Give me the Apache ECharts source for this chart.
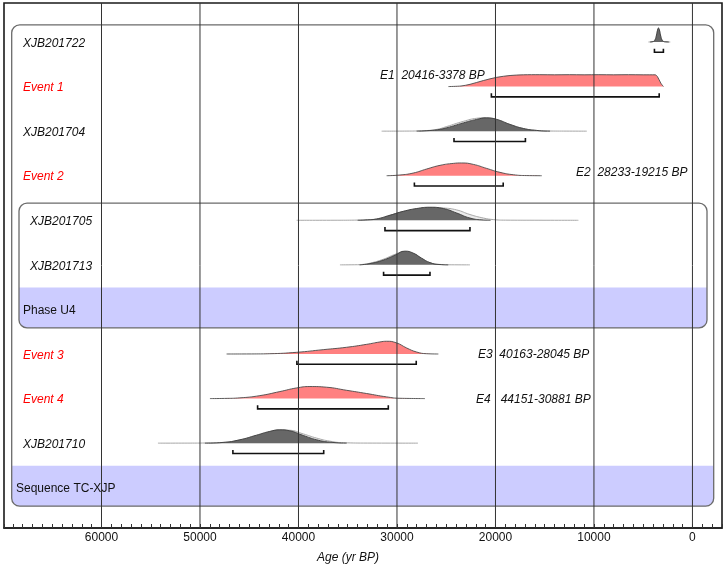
<!DOCTYPE html>
<html><head><meta charset="utf-8">
<script src="https://cdn.jsdelivr.net/npm/echarts@6/dist/echarts.min.js"></script>
<style>html,body{margin:0;padding:0;background:#fff}#chart{width:726px;height:569px}</style>
</head><body><div id="chart"></div>
<script>
// ---------------- DATA ----------------
const rowLabels = ['XJB201722','Event 1','XJB201704','Event 2','XJB201705','XJB201713','Phase U4','Event 3','Event 4','XJB201710','Sequence TC-XJP'];
const rowKinds  = ['sample','event','sample','event','sample','sample','phase','event','event','sample','sequence'];
const rowDepth  = [1,1,1,1,2,2,1,1,1,1,0];
const groupNames = ['Sequence TC-XJP','Phase U4'];
const groupFirstRow = [0,4];
const groupLastRow  = [10,6];

// 95.4% ranges (yr BP)
const rangeFrom = [3860,20416,24210,28233,31220,31360,null,40163,44151,46660,null];
const rangeTo   = [2950, 3378,16960,19215,22590,26650,null,28045,30881,37440,null];

const annotationTexts = ['E1  20416-3378 BP','E2  28233-19215 BP','E3  40163-28045 BP','E4   44151-30881 BP'];
const annotationRows  = [1,3,7,8];

const ageTicks = [60000,50000,40000,30000,20000,10000,0];

// distributions: [age BP, relative density 0..100]
const xjb201722Prior = [[4470,0],[4000,3],[3800,15],[3650,48],[3520,90],[3450,98],[3370,90],[3250,52],[3100,17],[2950,5],[2700,1],[2250,0]];
const xjb201722Post  = [[4300,0],[4000,3],[3800,15],[3650,50],[3520,92],[3450,100],[3370,90],[3250,50],[3100,15],[2950,4],[2700,1],[2400,0]];
const event1 = [[24780,0],[23500,4],[22585,16],[21230,43],[19870,66],[18520,79],[17170,84],[15500,85],[14000,84],[12500,85],[11000,84],[9500,85],[8000,84],[6500,85],[5000,84],[3790,84],[3555,71],[3210,24],[2945,0]];
const xjb201704Prior = [[31560,0],[29000,0.5],[27500,3],[26000,12],[24950,33],[23260,70],[21900,92],[21200,95],[20890,93],[19870,82],[18520,47],[17170,19],[15810,5],[14460,1],[12500,0.3],[10730,0]];
const xjb201704Post  = [[28000,0],[26980,3],[25900,10],[24950,24],[23260,59],[21900,84],[20890,95],[19870,84],[18520,48],[17170,19],[15810,5],[14460,0]];
const event2 = [[31050,0],[29700,5],[28350,19],[26980,48],[25630,74],[24280,88],[23430,91],[22250,81],[20890,52],[19540,24],[18190,7],[16820,1],[15300,0]];
const xjb201705Prior = [[40190,0],[36000,0.3],[34000,1.5],[33000,4],[32070,10],[30710,36],[29360,63],[28000,82],[26650,92],[25300,88],[23940,74],[22590,41],[21230,16],[20220,5],[19000,1],[16000,0.3],[11580,0]];
const xjb201705Post  = [[34000,0],[33000,3],[32070,9],[30710,36],[29360,64],[28000,84],[26650,93],[25300,84],[23940,52],[22590,16],[21230,2],[20500,0]];
const xjb201713Prior = [[35790,0],[34000,1],[33500,3],[32740,12],[31390,40],[30200,75],[29190,95],[28350,80],[27500,45],[26650,15],[25630,3],[24500,0.5],[22590,0]];
const xjb201713Post  = [[33800,0],[32740,9],[31390,34],[30200,69],[29190,98],[28350,84],[27500,48],[26650,16],[25630,2],[24800,0]];
const event3 = [[47300,0],[44500,0.5],[42910,2],[40190,12],[37490,31],[35110,48],[33080,69],[31730,86],[31050,91],[30030,79],[29020,43],[28000,14],[26980,2],[25800,0]];
const event4 = [[48990,0],[47500,1],[45950,5],[43920,21],[41890,50],[40190,76],[38840,86],[37140,81],[35110,59],[33080,36],[31050,12],[29700,2],[27160,0]];
const xjb201710Prior = [[54270,0],[51000,0.3],[49500,1],[47660,5],[45950,23],[44260,55],[42910,82],[41890,94],[40880,92],[39520,66],[38160,36],[36810,14],[35400,3],[33000,0.5],[27870,0]];
const xjb201710Post  = [[49500,0],[47660,5],[45950,24],[44260,57],[42910,84],[41890,95],[40880,88],[39520,55],[38160,24],[36810,7],[35110,0]];

// ---------------- RENDERING ----------------
const FONT = 'Liberation Sans';
const DENS_H = 0.314;               // density 100 -> fraction of a row height
const priorList = [[xjb201722Prior,0],[xjb201704Prior,2],[xjb201705Prior,4],[xjb201713Prior,5],[xjb201710Prior,9]];
const postList  = [[xjb201722Post,0],[xjb201704Post,2],[xjb201705Post,4],[xjb201713Post,5],[xjb201710Post,9]];
const eventList = [[event1,1],[event2,3],[event3,7],[event4,8]];

function toLine(arr,row){ return arr.map(p => [p[0], row - p[1]/100*DENS_H]); }
function distSeries(arr,row,fill,stroke,w,z,sm){
  return {type:'line', data: toLine(arr,row), smooth:sm, symbol:'none', showSymbol:false,
    silent:true, animation:false, z:z,
    lineStyle:{color:stroke,width:w}, areaStyle:{color:fill,opacity:1,origin:row}};
}

const groupInset = [[7.7,8.3],[15,15]];
const annoPlace = [[31720,-0.245],[11820,-0.07],[21780,0.02],[21980,0.02]];

const series = [];
// boxes and bands
series.push({type:'custom', z:1, silent:true, animation:false,
  data: groupNames.map((n,i)=>[0,groupFirstRow[i]]),
  renderItem(params, api){
    const i = params.dataIndex, cs = params.coordSys;
    const x0 = cs.x + groupInset[i][0], x1 = cs.x + cs.width - groupInset[i][1];
    const top = api.coord([0, groupFirstRow[i]-0.385])[1];
    const bot = api.coord([0, groupLastRow[i]+0.415])[1];
    const bandTop = api.coord([0, groupLastRow[i]-0.49])[1];
    return {type:'group', children:[
      {type:'rect', shape:{x:x0,y:top,width:x1-x0,height:bot-top,r:8}, style:{fill:'#ffffff', stroke:null}},
      {type:'rect', shape:{x:x0,y:bandTop,width:x1-x0,height:bot-bandTop,r:[0,0,8,8]}, style:{fill:'#ccccff'}},
      {type:'rect', shape:{x:x0,y:top,width:x1-x0,height:bot-top,r:8}, style:{fill:'none', stroke:'#6b6b6b', lineWidth:1.3}}
    ]};
  }});
priorList.forEach(([a,r]) => series.push(distSeries(a,r,'#ebebeb','#a8a8a8',1,2,0.5)));
postList.forEach(([a,r]) => series.push(distSeries(a,r,'#676767','#3c3c3c',0.9,3,0.5)));
eventList.forEach(([a,r],k) => series.push(distSeries(a,r,'#ff8080','#4a4a4a',0.9,3,k===0?0.3:0.5)));
// brackets
series.push({type:'custom', z:4, silent:true, animation:false,
  data: rangeFrom.map((f,i)=>[f==null?0:f, i]),
  renderItem(params, api){
    const i = params.dataIndex;
    if (rangeFrom[i]==null) return null;
    const p1 = api.coord([rangeFrom[i], i+0.231]);
    const p2 = api.coord([rangeTo[i], i+0.231]);
    return {type:'polyline', shape:{points:[[p1[0],p1[1]-3.5],[p1[0],p1[1]],[p2[0],p2[1]],[p2[0],p2[1]-3.5]]},
      style:{stroke:'#111', lineWidth:1.6, fill:null}};
  }});
// row labels
series.push({type:'custom', z:5, silent:true, animation:false,
  data: rowLabels.map((t,i)=>[0,i]),
  renderItem(params, api){
    const i = params.dataIndex, cs = params.coordSys;
    const y = api.coord([0, i+0.03])[1];
    const k = rowKinds[i];
    const italic = (k==='sample'||k==='event');
    return {type:'text', style:{x: cs.x + 12 + rowDepth[i]*7, y:y, text: rowLabels[i],
      fontSize:12, fontFamily:FONT, fontStyle: italic?'italic':'normal',
      fill: k==='event' ? '#ff0000' : '#111', align:'left', verticalAlign:'middle'}};
  }});
// annotations
series.push({type:'custom', z:5, silent:true, animation:false,
  data: annotationTexts.map((t,i)=>[annoPlace[i][0], annotationRows[i]]),
  renderItem(params, api){
    const i = params.dataIndex;
    const p = api.coord([annoPlace[i][0], annotationRows[i]+annoPlace[i][1]]);
    return {type:'text', style:{x:p[0], y:p[1], text: annotationTexts[i], fontSize:12, fontFamily:FONT,
      fontStyle:'italic', fill:'#111', align:'left', verticalAlign:'middle'}};
  }});
// vertical grid lines at major ages
series.push({type:'custom', z:6, silent:true, animation:false,
  data: ageTicks.map(v=>[v,0]),
  renderItem(params, api){
    const cs = params.coordSys;
    const x = api.coord([ageTicks[params.dataIndex], 0])[0];
    return {type:'line', shape:{x1:x,y1:cs.y,x2:x,y2:cs.y+cs.height}, style:{stroke:'#333', lineWidth:1}};
  }});

const chart = echarts.init(document.getElementById('chart'), null, {renderer:'canvas'});
chart.setOption({
  animation:false,
  backgroundColor:'#ffffff',
  grid:{left:4, top:3, width:718, height:525, show:true, borderColor:'#1a1a1a', borderWidth:1.6, outerBoundsMode:'none', containLabel:false},
  xAxis:{type:'value', inverse:true, min:-3000, max:69900, interval:1000, position:'bottom',
    axisLine:{show:true, onZero:false, lineStyle:{color:'#1a1a1a', width:1.6}},
    axisTick:{show:true, inside:true, length:4, lineStyle:{color:'#333', width:1}},
    axisLabel:{formatter: v => (v % 10000 === 0 && v >= 0) ? String(v) : '', fontSize:12, color:'#111', fontFamily:FONT, margin:4},
    splitLine:{show:false},
    name:'Age (yr BP)', nameLocation:'middle', nameGap:24,
    nameTextStyle:{fontStyle:'italic', fontSize:12, color:'#111', fontFamily:FONT, padding:[0,30,0,0]}},
  yAxis:{type:'value', inverse:true, min:-0.875, max:10.904,
    axisLine:{show:false}, axisTick:{show:false}, axisLabel:{show:false}, splitLine:{show:false}},
  series: series
});
</script></body></html>
